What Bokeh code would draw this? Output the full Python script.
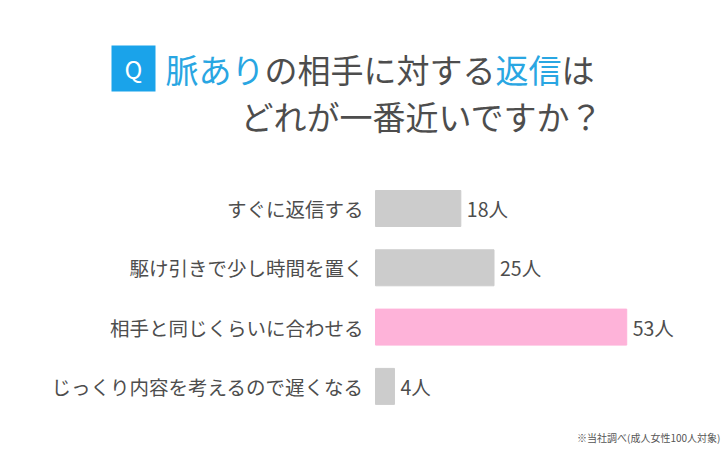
from bokeh.plotting import figure
from bokeh.models import Range1d, Label, BoxAnnotation, ColumnDataSource
from bokeh.embed import file_html
from bokeh.resources import INLINE

# ---- data ----
categories = ["すぐに返信する", "駆け引きで少し時間を置く", "相手と同じくらいに合わせる", "じっくり内容を考えるので遅くなる"]
counts = [18, 25, 53, 4]
highlight = "相手と同じくらいに合わせる"
unit = "人"
title_line1 = [("脈あり", "blue"), ("の相手に対する", "grey"), ("返信", "blue"), ("は", "grey")]
title_line2 = "どれが一番近いですか？"
footnote = "※当社調べ(成人女性100人対象)"

# ---- style ----
W, H = 726, 450
FONT = "Noto Sans CJK JP"
BLUE = "#29a6e2"
QBLUE = "#1aa3ea"
GREY_TEXT = "#4d4d4d"
BAR_GREY = "#cccccc"
BAR_PINK = "#feb3d9"
PX_PER_UNIT = 4.74     # horizontal px per person
ZERO_X = 375           # px where value 0 sits
ROW_PX = 59.3          # vertical px per row
FIRST_ROW_Y = 208      # px from top of first row center

colors = [BAR_PINK if c == highlight else BAR_GREY for c in categories]
pos = list(range(len(categories)))
src = ColumnDataSource(dict(
    cat=categories, pos=pos, val=counts, color=colors,
    vlabel=[f"{v}{unit}" for v in counts],
))

p = figure(width=W, height=H, output_backend="svg", toolbar_location=None,
           x_range=Range1d(-ZERO_X / PX_PER_UNIT, (W - ZERO_X) / PX_PER_UNIT),
           y_range=Range1d((H - FIRST_ROW_Y) / ROW_PX, -FIRST_ROW_Y / ROW_PX),
           min_border_left=0, min_border_right=0, min_border_top=0, min_border_bottom=0)
p.axis.visible = False
p.grid.visible = False
p.outline_line_color = None
p.background_fill_color = "white"
p.border_fill_color = "white"

p.hbar(y="pos", left=0, right="val", height=0.607, color="color", source=src)

p.text(x=0, y="pos", text="cat", source=src, x_offset=-12,
       text_align="right", text_baseline="middle", text_font_size="19.5px",
       text_color=GREY_TEXT, text_font={"value": FONT})
p.text(x="val", y="pos", text="vlabel", source=src, x_offset=6,
       text_align="left", text_baseline="middle", text_font_size="19.5px",
       text_color=GREY_TEXT, text_font={"value": FONT})

# ---- title (screen units, from bottom-left) ----
box = BoxAnnotation(left=111, right=155, bottom=H - 91, top=H - 45,
                    left_units="screen", right_units="screen",
                    top_units="screen", bottom_units="screen",
                    fill_color=QBLUE, fill_alpha=1.0, line_color=None)
p.add_layout(box)
p.add_layout(Label(x=133, y=H - 68, x_units="screen", y_units="screen", text="Q",
                   text_align="center", text_baseline="middle", text_font_size="24px",
                   text_color="white", text_font=FONT))

fs = 33
x = 165
for seg, c in title_line1:
    p.add_layout(Label(x=x, y=H - 68, x_units="screen", y_units="screen", text=seg,
                       text_align="left", text_baseline="middle",
                       text_font_size=f"{fs}px", text_font=FONT,
                       text_color=BLUE if c == "blue" else GREY_TEXT))
    x += fs * len(seg)
p.add_layout(Label(x=240, y=H - 115, x_units="screen", y_units="screen", text=title_line2,
                   text_align="left", text_baseline="middle",
                   text_font_size=f"{fs}px", text_font=FONT, text_color=GREY_TEXT))

p.add_layout(Label(x=720, y=H - 437, x_units="screen", y_units="screen", text=footnote,
                   text_align="right", text_baseline="middle", text_font_size="10px",
                   text_font=FONT, text_color="#555555"))

open("out.html", "w").write(file_html(p, INLINE))
